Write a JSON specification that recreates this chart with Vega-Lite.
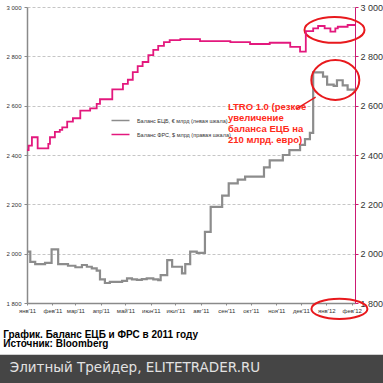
{
  "$schema": "https://vega.github.io/schema/vega-lite/v6.json",
  "width": 328,
  "height": 296,
  "autosize": {"type": "none"},
  "padding": {"left": 27, "top": 7, "right": 28, "bottom": 80},
  "background": "white",
  "config": {"view": {"stroke": null}, "font": "Liberation Sans"},
  "datasets": {
    "balances": [
      {"date": "2011-01-01", "value": 2008, "series": "Баланс ЕЦБ, € млрд (левая шкала)"},
      {"date": "2011-01-05", "value": 1967, "series": "Баланс ЕЦБ, € млрд (левая шкала)"},
      {"date": "2011-01-11", "value": 1958, "series": "Баланс ЕЦБ, € млрд (левая шкала)"},
      {"date": "2011-01-23", "value": 1963, "series": "Баланс ЕЦБ, € млрд (левая шкала)"},
      {"date": "2011-01-31", "value": 2017, "series": "Баланс ЕЦБ, € млрд (левая шкала)"},
      {"date": "2011-02-08", "value": 1958, "series": "Баланс ЕЦБ, € млрд (левая шкала)"},
      {"date": "2011-02-20", "value": 1951, "series": "Баланс ЕЦБ, € млрд (левая шкала)"},
      {"date": "2011-03-01", "value": 1945, "series": "Баланс ЕЦБ, € млрд (левая шкала)"},
      {"date": "2011-03-09", "value": 1954, "series": "Баланс ЕЦБ, € млрд (левая шкала)"},
      {"date": "2011-03-15", "value": 1947, "series": "Баланс ЕЦБ, € млрд (левая шкала)"},
      {"date": "2011-03-21", "value": 1940, "series": "Баланс ЕЦБ, € млрд (левая шкала)"},
      {"date": "2011-03-27", "value": 1931, "series": "Баланс ЕЦБ, € млрд (левая шкала)"},
      {"date": "2011-03-31", "value": 1896, "series": "Баланс ЕЦБ, € млрд (левая шкала)"},
      {"date": "2011-04-06", "value": 1881, "series": "Баланс ЕЦБ, € млрд (левая шкала)"},
      {"date": "2011-04-12", "value": 1886, "series": "Баланс ЕЦБ, € млрд (левая шкала)"},
      {"date": "2011-04-27", "value": 1890, "series": "Баланс ЕЦБ, € млрд (левая шкала)"},
      {"date": "2011-05-03", "value": 1900, "series": "Баланс ЕЦБ, € млрд (левая шкала)"},
      {"date": "2011-05-09", "value": 1896, "series": "Баланс ЕЦБ, € млрд (левая шкала)"},
      {"date": "2011-05-15", "value": 1894, "series": "Баланс ЕЦБ, € млрд (левая шкала)"},
      {"date": "2011-05-21", "value": 1897, "series": "Баланс ЕЦБ, € млрд (левая шкала)"},
      {"date": "2011-05-27", "value": 1900, "series": "Баланс ЕЦБ, € млрд (левая шкала)"},
      {"date": "2011-06-04", "value": 1896, "series": "Баланс ЕЦБ, € млрд (левая шкала)"},
      {"date": "2011-06-10", "value": 1893, "series": "Баланс ЕЦБ, € млрд (левая шкала)"},
      {"date": "2011-06-13", "value": 1913, "series": "Баланс ЕЦБ, € млрд (левая шкала)"},
      {"date": "2011-06-21", "value": 1974, "series": "Баланс ЕЦБ, € млрд (левая шкала)"},
      {"date": "2011-06-27", "value": 1947, "series": "Баланс ЕЦБ, € млрд (левая шкала)"},
      {"date": "2011-07-09", "value": 1920, "series": "Баланс ЕЦБ, € млрд (левая шкала)"},
      {"date": "2011-07-13", "value": 1958, "series": "Баланс ЕЦБ, € млрд (левая шкала)"},
      {"date": "2011-07-19", "value": 2008, "series": "Баланс ЕЦБ, € млрд (левая шкала)"},
      {"date": "2011-07-27", "value": 2003, "series": "Баланс ЕЦБ, € млрд (левая шкала)"},
      {"date": "2011-08-06", "value": 2088, "series": "Баланс ЕЦБ, € млрд (левая шкала)"},
      {"date": "2011-08-13", "value": 2190, "series": "Баланс ЕЦБ, € млрд (левая шкала)"},
      {"date": "2011-08-27", "value": 2235, "series": "Баланс ЕЦБ, € млрд (левая шкала)"},
      {"date": "2011-09-04", "value": 2285, "series": "Баланс ЕЦБ, € млрд (левая шкала)"},
      {"date": "2011-09-15", "value": 2300, "series": "Баланс ЕЦБ, € млрд (левая шкала)"},
      {"date": "2011-09-24", "value": 2312, "series": "Баланс ЕЦБ, € млрд (левая шкала)"},
      {"date": "2011-10-17", "value": 2350, "series": "Баланс ЕЦБ, € млрд (левая шкала)"},
      {"date": "2011-10-24", "value": 2378, "series": "Баланс ЕЦБ, € млрд (левая шкала)"},
      {"date": "2011-11-09", "value": 2400, "series": "Баланс ЕЦБ, € млрд (левая шкала)"},
      {"date": "2011-11-17", "value": 2420, "series": "Баланс ЕЦБ, € млрд (левая шкала)"},
      {"date": "2011-11-30", "value": 2441, "series": "Баланс ЕЦБ, € млрд (левая шкала)"},
      {"date": "2011-12-06", "value": 2464, "series": "Баланс ЕЦБ, € млрд (левая шкала)"},
      {"date": "2011-12-12", "value": 2490, "series": "Баланс ЕЦБ, € млрд (левая шкала)"},
      {"date": "2011-12-16", "value": 2735, "series": "Баланс ЕЦБ, € млрд (левая шкала)"},
      {"date": "2011-12-28", "value": 2718, "series": "Баланс ЕЦБ, € млрд (левая шкала)"},
      {"date": "2012-01-02", "value": 2685, "series": "Баланс ЕЦБ, € млрд (левая шкала)"},
      {"date": "2012-01-10", "value": 2680, "series": "Баланс ЕЦБ, € млрд (левая шкала)"},
      {"date": "2012-01-14", "value": 2703, "series": "Баланс ЕЦБ, € млрд (левая шкала)"},
      {"date": "2012-01-21", "value": 2682, "series": "Баланс ЕЦБ, € млрд (левая шкала)"},
      {"date": "2012-01-27", "value": 2665, "series": "Баланс ЕЦБ, € млрд (левая шкала)"},
      {"date": "2012-02-05", "value": 2662, "series": "Баланс ЕЦБ, € млрд (левая шкала)"},
      {"date": "2011-01-01", "value": 2420, "series": "Баланс ФРС, $ млрд (правая шкала)"},
      {"date": "2011-01-03", "value": 2438, "series": "Баланс ФРС, $ млрд (правая шкала)"},
      {"date": "2011-01-07", "value": 2472, "series": "Баланс ФРС, $ млрд (правая шкала)"},
      {"date": "2011-01-14", "value": 2427, "series": "Баланс ФРС, $ млрд (правая шкала)"},
      {"date": "2011-01-27", "value": 2445, "series": "Баланс ФРС, $ млрд (правая шкала)"},
      {"date": "2011-01-29", "value": 2472, "series": "Баланс ФРС, $ млрд (правая шкала)"},
      {"date": "2011-02-04", "value": 2494, "series": "Баланс ФРС, $ млрд (правая шкала)"},
      {"date": "2011-02-10", "value": 2502, "series": "Баланс ФРС, $ млрд (правая шкала)"},
      {"date": "2011-02-13", "value": 2512, "series": "Баланс ФРС, $ млрд (правая шкала)"},
      {"date": "2011-02-19", "value": 2535, "series": "Баланс ФРС, $ млрд (правая шкала)"},
      {"date": "2011-02-26", "value": 2549, "series": "Баланс ФРС, $ млрд (правая шкала)"},
      {"date": "2011-03-07", "value": 2580, "series": "Баланс ФРС, $ млрд (правая шкала)"},
      {"date": "2011-03-19", "value": 2589, "series": "Баланс ФРС, $ млрд (правая шкала)"},
      {"date": "2011-03-27", "value": 2607, "series": "Баланс ФРС, $ млрд (правая шкала)"},
      {"date": "2011-03-31", "value": 2626, "series": "Баланс ФРС, $ млрд (правая шкала)"},
      {"date": "2011-04-15", "value": 2666, "series": "Баланс ФРС, $ млрд (правая шкала)"},
      {"date": "2011-04-28", "value": 2688, "series": "Баланс ФРС, $ млрд (правая шкала)"},
      {"date": "2011-05-04", "value": 2705, "series": "Баланс ФРС, $ млрд (правая шкала)"},
      {"date": "2011-05-10", "value": 2736, "series": "Баланс ФРС, $ млрд (правая шкала)"},
      {"date": "2011-05-16", "value": 2760, "series": "Баланс ФРС, $ млрд (правая шкала)"},
      {"date": "2011-05-22", "value": 2777, "series": "Баланс ФРС, $ млрд (правая шкала)"},
      {"date": "2011-05-29", "value": 2805, "series": "Баланс ФРС, $ млрд (правая шкала)"},
      {"date": "2011-06-04", "value": 2826, "series": "Баланс ФРС, $ млрд (правая шкала)"},
      {"date": "2011-06-10", "value": 2842, "series": "Баланс ФРС, $ млрд (правая шкала)"},
      {"date": "2011-06-17", "value": 2858, "series": "Баланс ФРС, $ млрд (правая шкала)"},
      {"date": "2011-06-24", "value": 2866, "series": "Баланс ФРС, $ млрд (правая шкала)"},
      {"date": "2011-07-07", "value": 2870, "series": "Баланс ФРС, $ млрд (правая шкала)"},
      {"date": "2011-07-31", "value": 2862, "series": "Баланс ФРС, $ млрд (правая шкала)"},
      {"date": "2011-09-06", "value": 2858, "series": "Баланс ФРС, $ млрд (правая шкала)"},
      {"date": "2011-09-30", "value": 2850, "series": "Баланс ФРС, $ млрд (правая шкала)"},
      {"date": "2011-10-24", "value": 2855, "series": "Баланс ФРС, $ млрд (правая шкала)"},
      {"date": "2011-11-18", "value": 2838, "series": "Баланс ФРС, $ млрд (правая шкала)"},
      {"date": "2011-11-30", "value": 2819, "series": "Баланс ФРС, $ млрд (правая шкала)"},
      {"date": "2011-12-07", "value": 2902, "series": "Баланс ФРС, $ млрд (правая шкала)"},
      {"date": "2011-12-16", "value": 2913, "series": "Баланс ФРС, $ млрд (правая шкала)"},
      {"date": "2011-12-22", "value": 2923, "series": "Баланс ФРС, $ млрд (правая шкала)"},
      {"date": "2011-12-30", "value": 2913, "series": "Баланс ФРС, $ млрд (правая шкала)"},
      {"date": "2012-01-06", "value": 2900, "series": "Баланс ФРС, $ млрд (правая шкала)"},
      {"date": "2012-01-12", "value": 2913, "series": "Баланс ФРС, $ млрд (правая шкала)"},
      {"date": "2012-01-15", "value": 2920, "series": "Баланс ФРС, $ млрд (правая шкала)"},
      {"date": "2012-01-27", "value": 2927, "series": "Баланс ФРС, $ млрд (правая шкала)"},
      {"date": "2012-02-05", "value": 2927, "series": "Баланс ФРС, $ млрд (правая шкала)"}
    ]
  },
  "resolve": {"scale": {"y": "independent"}},
  "layer": [
    {
      "layer": [
        {
          "data": {"values": [{"x1": "2010-11-01", "x2": "2012-04-01", "y1": 1470, "y2": 1590}]},
          "mark": {"type": "rect", "color": "#454545"},
          "encoding": {
            "x": {"field": "x1", "type": "temporal"},
            "x2": {"field": "x2"},
            "y": {"field": "y1", "type": "quantitative"},
            "y2": {"field": "y2"}
          }
        },
        {
          "data": {"values": [{"date": "2010-12-11", "value": 1536, "label": "Элитный Трейдер, ELITETRADER.RU"}]},
          "mark": {"type": "text", "align": "left", "baseline": "middle", "font": "DejaVu Sans", "fontSize": 13.5, "color": "#e2e2e2"},
          "encoding": {
            "x": {"field": "date", "type": "temporal"},
            "y": {"field": "value", "type": "quantitative"},
            "text": {"field": "label", "type": "nominal"}
          }
        },
        {
          "data": {"values": [{"date": "2010-12-03", "value": 1660, "label": ["График. Баланс ЕЦБ и ФРС в 2011 году", "Источник: Bloomberg"]}]},
          "mark": {"type": "text", "align": "left", "baseline": "alphabetic", "fontSize": 10, "fontWeight": "bold", "color": "#000000", "lineHeight": 9.5},
          "encoding": {
            "x": {"field": "date", "type": "temporal"},
            "y": {"field": "value", "type": "quantitative"},
            "text": {"field": "label"}
          }
        },
        {
          "data": {"name": "balances"},
          "transform": [{"filter": "datum.series == 'Баланс ЕЦБ, € млрд (левая шкала)'"}],
          "mark": {"type": "line", "interpolate": "step-after", "strokeWidth": 2.2},
          "encoding": {
            "x": {
              "field": "date", "type": "temporal",
              "scale": {"type": "utc", "domain": [{"year": 2011, "month": 1, "date": 1, "utc": true}, {"year": 2012, "month": 2, "date": 5, "utc": true}], "nice": false},
              "axis": {
                "title": null, "tickCount": {"interval": "month", "step": 1},
                "labelExpr": "['янв','фев','мар','апр','май','июн','июл','авг','сен','окт','ноя','дек'][utcmonth(datum.value)] + \"'\" + utcFormat(datum.value, '%y')",
                "labelFontSize": 6, "labelColor": "#333333", "labelPadding": 2, "labelFlush": false, "labelOverlap": false, "labelDx": -3,
                "domainColor": "#8a8a8a", "domainWidth": 1.5, "tickColor": "#8a8a8a", "tickSize": 2, "grid": false
              }
            },
            "y": {
              "field": "value", "type": "quantitative",
              "scale": {"domain": [1800, 3000], "nice": false, "zero": false},
              "axis": {
                "title": null, "values": [1800, 2000, 2200, 2400, 2600, 2800, 3000],
                "labelExpr": "replace(format(datum.value, ','), ',', ' ')",
                "labelFontSize": 6, "labelColor": "#333333", "labelPadding": 3,
                "domainColor": "#8a8a8a", "domainWidth": 1.5, "tickColor": "#8a8a8a", "tickSize": 3,
                "grid": true, "gridColor": "#b8b8b8", "gridDash": [3, 2], "gridWidth": 0.8
              }
            },
            "color": {
              "field": "series", "type": "nominal",
              "scale": {"domain": ["Баланс ЕЦБ, € млрд (левая шкала)", "Баланс ФРС, $ млрд (правая шкала)"], "range": ["#8c8c8c", "#e3187d"]},
              "legend": {
                "title": null, "orient": "none", "legendX": 88, "legendY": 108,
                "symbolType": "M-2,0L2,0", "symbolSize": 81, "symbolStrokeWidth": 1.5,
                "labelFontSize": 5.5, "labelColor": "#333333", "labelOffset": 11, "rowPadding": 5
              }
            }
          }
        },
        {
          "data": {"values": [{"date": "2011-09-03", "value": 2615, "label": ["LTRO 1.0 (резкое", "увеличение", "баланса ЕЦБ на", "210 млрд. евро)"]}]},
          "mark": {"type": "text", "align": "left", "baseline": "top", "fontSize": 9.5, "fontWeight": "bold", "color": "#ff2a1a", "lineHeight": 11},
          "encoding": {
            "x": {"field": "date", "type": "temporal"},
            "y": {"field": "value", "type": "quantitative"},
            "text": {"field": "label"}
          }
        },
        {
          "data": {"values": [{"d1": "2011-11-25", "v1": 2586, "d2": "2011-12-19", "v2": 2635}]},
          "mark": {"type": "rule", "color": "#e8191d", "strokeWidth": 1.5},
          "encoding": {
            "x": {"field": "d1", "type": "temporal"},
            "x2": {"field": "d2"},
            "y": {"field": "v1", "type": "quantitative"},
            "y2": {"field": "v2"}
          }
        },
        {
          "data": {"values": [{"date": "2012-01-11", "value": 2907}]},
          "mark": {"type": "point", "filled": false, "color": "#e8191d", "strokeWidth": 2, "opacity": 1, "size": 3600,
            "shape": "M-1,0C-1,-0.237 -0.552,-0.43 0,-0.43C0.552,-0.43 1,-0.237 1,0C1,0.237 0.552,0.43 0,0.43C-0.552,0.43 -1,0.237 -1,0Z"},
          "encoding": {
            "x": {"field": "date", "type": "temporal"},
            "y": {"field": "value", "type": "quantitative"}
          }
        },
        {
          "data": {"values": [{"date": "2012-01-12", "value": 2704}]},
          "mark": {"type": "point", "filled": false, "color": "#e8191d", "strokeWidth": 2, "opacity": 1, "size": 2304,
            "shape": "M-1,0C-1,-0.458 -0.552,-0.83 0,-0.83C0.552,-0.83 1,-0.458 1,0C1,0.458 0.552,0.83 0,0.83C-0.552,0.83 -1,0.458 -1,0Z"},
          "encoding": {
            "x": {"field": "date", "type": "temporal"},
            "y": {"field": "value", "type": "quantitative"}
          }
        },
        {
          "data": {"values": [{"date": "2012-01-17", "value": 1776}]},
          "mark": {"type": "point", "filled": false, "color": "#e8191d", "strokeWidth": 2, "opacity": 1, "size": 3136,
            "shape": "M-1,0C-1,-0.199 -0.552,-0.36 0,-0.36C0.552,-0.36 1,-0.199 1,0C1,0.199 0.552,0.36 0,0.36C-0.552,0.36 -1,0.199 -1,0Z"},
          "encoding": {
            "x": {"field": "date", "type": "temporal"},
            "y": {"field": "value", "type": "quantitative"}
          }
        }
      ]
    },
    {
      "data": {"name": "balances"},
      "transform": [{"filter": "datum.series == 'Баланс ФРС, $ млрд (правая шкала)'"}],
      "mark": {"type": "line", "interpolate": "step-after", "strokeWidth": 1.8},
      "encoding": {
        "x": {"field": "date", "type": "temporal"},
        "y": {
          "field": "value", "type": "quantitative",
          "scale": {"domain": [1800, 3000], "nice": false, "zero": false},
          "axis": {
            "title": null, "orient": "right", "values": [1800, 2000, 2200, 2400, 2600, 2800, 3000],
            "labelExpr": "replace(format(datum.value, ','), ',', ' ')",
            "labelFontSize": 9, "labelColor": "#333333", "labelPadding": 2,
            "domainColor": "#cc1a74", "domainWidth": 1, "tickColor": "#cc1a74", "tickSize": 3, "grid": false
          }
        },
        "color": {"field": "series", "type": "nominal"}
      }
    }
  ]
}
